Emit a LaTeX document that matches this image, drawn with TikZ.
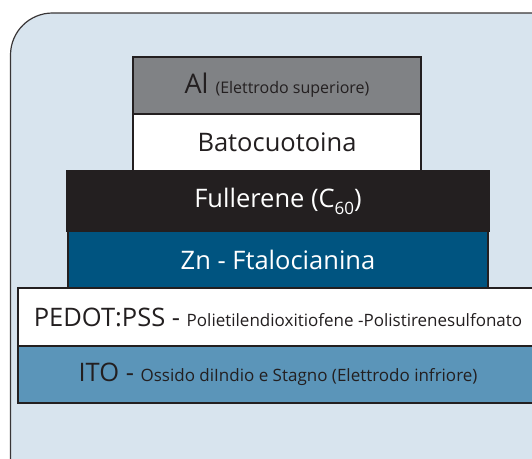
\documentclass[tikz,border=0pt]{standalone}
\usepackage{fontspec}
\setmainfont{Open Sans}
\definecolor{bgc}{HTML}{D8E4EE}
\definecolor{edge}{HTML}{231F20}
\definecolor{algray}{HTML}{808285}
\definecolor{znblue}{HTML}{005480}
\definecolor{itoblue}{HTML}{5B95B9}
\definecolor{txt}{HTML}{231F20}
\tikzset{
  layer/.style={draw=edge, line width=2pt, rectangle, inner sep=0pt, text=txt},
}
\begin{document}
\begin{tikzpicture}[x=1pt,y=-1pt]
\useasboundingbox (0,0) rectangle (532,458);
\clip (0,0) rectangle (532,458);
\draw[fill=bgc, draw=edge!90, line width=1.2pt, rounded corners=42] (10.5,13) rectangle (575,520);
% layers
\node[layer, fill=algray, minimum width=288, minimum height=57] (al) at (277,85.5)
  {\fontsize{27}{30}\selectfont Al {\fontsize{16}{19}\selectfont (Elettrodo superiore)}};
\node[layer, fill=white, minimum width=288, minimum height=57] (bato) at (277,142.5)
  {\fontsize{25.5}{30}\selectfont Batocuotoina};
\node[layer, fill=edge, minimum width=422, minimum height=60, text=white] (full) at (278,201)
  {\fontsize{25.5}{30}\selectfont Fullerene (C\raisebox{-0.5ex}{\fontsize{17}{19}\selectfont 60})};
\node[layer, fill=znblue, minimum width=420, minimum height=57, text=white] (zn) at (278,259.5)
  {\fontsize{25.5}{30}\selectfont Zn - Ftalocianina};
\node[layer, fill=white, minimum width=520, minimum height=58] (pedot) at (278,317)
  {\fontsize{25.5}{30}\selectfont PEDOT:PSS - {\fontsize{17}{20}\selectfont Polietilendioxitiofene -Polistirenesulfonato}};
\node[layer, fill=itoblue, minimum width=520, minimum height=57] (ito) at (278,374.5)
  {\fontsize{25.5}{30}\selectfont ITO - {\fontsize{17}{20}\selectfont Ossido diIndio e Stagno (Elettrodo infriore)}};
\end{tikzpicture}
\end{document}
